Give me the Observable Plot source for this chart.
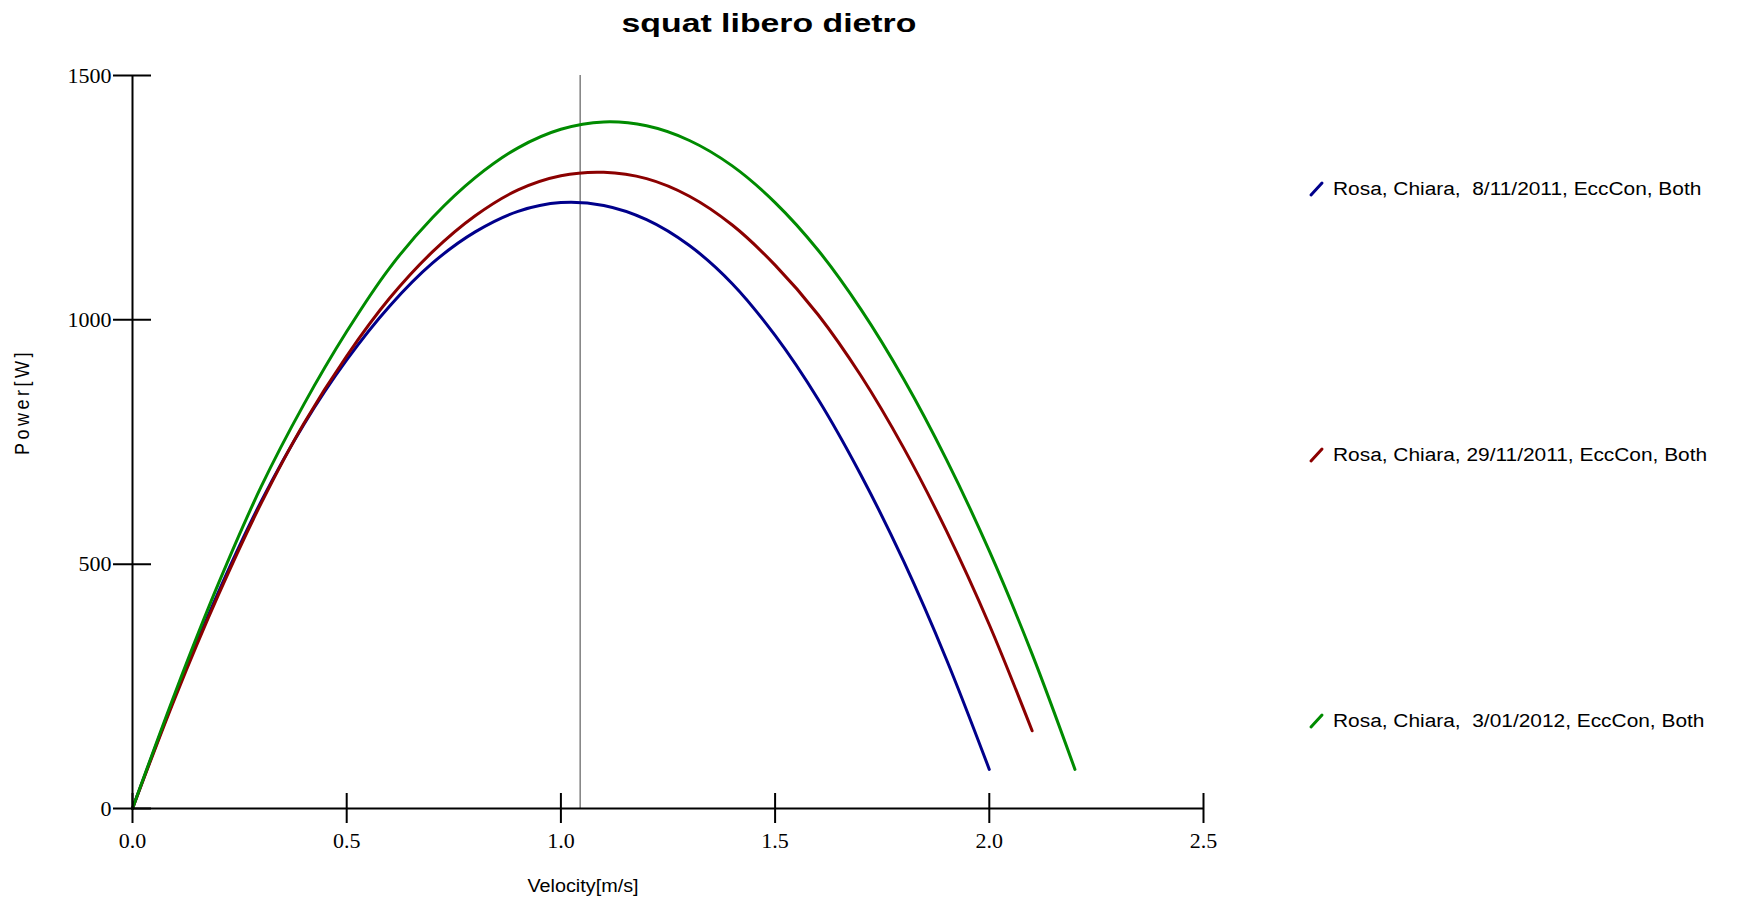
<!DOCTYPE html>
<html><head><meta charset="utf-8">
<script src="https://cdn.jsdelivr.net/npm/d3@7"></script>
<script src="https://cdn.jsdelivr.net/npm/@observablehq/plot@0.6"></script>
<style>
body{margin:0;background:#fff;}
#wrap{position:relative;width:1739px;height:899px;overflow:hidden;background:#fff;}
#wrap svg{position:absolute;left:0;top:0;}
.ov{position:absolute;font-family:"Liberation Sans",Arial,sans-serif;color:#000;white-space:pre;line-height:1;}
</style></head><body>
<div id="wrap"></div>
<script>
// ---- data ----
const title = "squat libero dietro";
const xLabel = "Velocity[m/s]";
const yLabel = "Power[W]";
const velocity = [0,0.1,0.2,0.3,0.4,0.5,0.6,0.7,0.8,0.9,1.0,1.1,1.2,1.3,1.4,1.5,1.6,1.7,1.8,1.9,2.0,2.1,2.2];
const seriesNames = [
  "Rosa, Chiara,  8/11/2011, EccCon, Both",
  "Rosa, Chiara, 29/11/2011, EccCon, Both",
  "Rosa, Chiara,  3/01/2012, EccCon, Both"
];
const seriesColors = ["#00008b", "#8b0000", "#008b00"];
const power1 = [0,232,442,628,786,918,1028,1116,1180,1222,1240,1234,1205,1152,1074,968,838,683,506,305,80];
const power2 = [0,228,436,624,788,926,1044,1139,1213,1266,1295,1302,1289,1253,1194,1112,1011,886,738,568,376,159];
const power3 = [0,238,459,658,827,976,1106,1209,1291,1352,1390,1405,1397,1367,1315,1240,1143,1022,879,714,527,316,80];
const markerVelocity = [1.045];
const xTicks = [0,0.5,1.0,1.5,2.0,2.5];
const yTicks = [0,500,1000,1500];

const rows = [];
[power1, power2, power3].forEach((arr, i) => arr.forEach((p, j) => rows.push({v: velocity[j], p, s: seriesNames[i]})));

const chart = Plot.plot({
  width: 1739, height: 899,
  marginLeft: 132, marginRight: 536, marginTop: 75, marginBottom: 91,
  x: {domain: [0, 2.5]},
  y: {domain: [0, 1500]},
  color: {domain: seriesNames, range: seriesColors},
  style: {fontFamily: "'Liberation Serif', 'Times New Roman', serif", fontSize: "22px", color: "#000", background: "#fff", overflow: "visible"},
  marks: [
    Plot.ruleX(markerVelocity, {x: d => d, y1: 0, y2: 1500, stroke: "#7f7f7f", strokeWidth: 1.5}),
    Plot.line(rows, {x: "v", y: "p", z: "s", stroke: "s", strokeWidth: 3, curve: "catmull-rom", strokeLinejoin: "round", strokeLinecap: "round"}),
    Plot.ruleY([0], {x1: 0, x2: 2.5, stroke: "#000", strokeWidth: 2}),
    Plot.ruleX([0], {y1: 0, y2: 1500, stroke: "#000", strokeWidth: 2}),
    Plot.ruleX(xTicks, {x: d => d, y1: 0, y2: 0, insetTop: -15, insetBottom: -15, stroke: "#000", strokeWidth: 2}),
    Plot.ruleY(yTicks, {y: d => d, x1: 0, x2: 0, insetLeft: -19, insetRight: -19, stroke: "#000", strokeWidth: 2}),
    Plot.axisX(xTicks, {tickSize: 0, tickPadding: 24, tickFormat: d => d.toFixed(1), label: null}),
    Plot.axisY(yTicks, {tickSize: 0, tickPadding: 21, tickFormat: d => String(d), label: null})
  ]
});
const wrap = document.getElementById("wrap");
wrap.appendChild(chart);

function addDiv(text, css) {
  const d = document.createElement("div");
  d.className = "ov";
  d.textContent = text;
  Object.assign(d.style, css);
  wrap.appendChild(d);
  return d;
}
// title
addDiv(title, {left: "769px", top: "10px", fontSize: "26px", fontWeight: "bold", transform: "translateX(-50%) scaleX(1.3)"});
// axis labels
addDiv(xLabel, {left: "583px", top: "877px", fontSize: "18px", transform: "translateX(-50%) scaleX(1.1)"});
addDiv(yLabel, {left: "22px", top: "402px", fontSize: "18px", letterSpacing: "3.5px", transform: "translate(-50%,-50%) rotate(-90deg) scaleY(1.15)"});
// legend
const legendY = [189, 455, 721];
seriesNames.forEach((name, i) => {
  const cy = legendY[i];
  const s = document.createElementNS("http://www.w3.org/2000/svg", "svg");
  s.setAttribute("width", 20); s.setAttribute("height", 20);
  s.style.position = "absolute"; s.style.left = "1306px"; s.style.top = (cy - 10) + "px";
  const l = document.createElementNS("http://www.w3.org/2000/svg", "line");
  l.setAttribute("x1", 5); l.setAttribute("y1", 16); l.setAttribute("x2", 16); l.setAttribute("y2", 4);
  l.setAttribute("stroke", seriesColors[i]); l.setAttribute("stroke-width", 3); l.setAttribute("stroke-linecap", "round");
  s.appendChild(l); wrap.appendChild(s);
  addDiv(name, {left: "1333px", top: (cy - 9) + "px", fontSize: "18px", transform: "scaleX(1.16)", transformOrigin: "left center"});
});
</script>
</body></html>
